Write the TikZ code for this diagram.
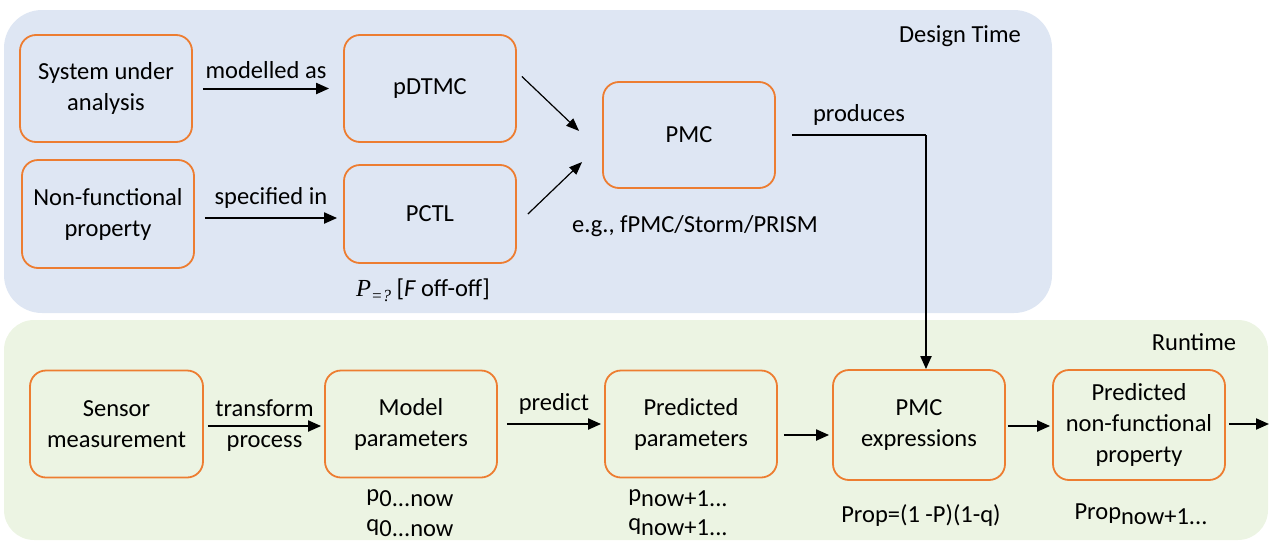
\documentclass[tikz,border=0pt]{standalone}
\usepackage{fontspec}
\setmainfont{Carlito}
\newfontfamily\tnr{Liberation Serif}
\usetikzlibrary{arrows.meta}
\definecolor{bxorange}{RGB}{237,125,49}
\definecolor{dtblue}{RGB}{222,230,243}
\definecolor{rtgreen}{RGB}{236,244,227}
\begin{document}
\begin{tikzpicture}[x=1pt,y=-1pt, font=\fontsize{24.5}{31}\selectfont,
  box/.style={draw=bxorange, line width=1.8pt, rounded corners=16pt, align=center,
    minimum width=172pt, minimum height=107pt, inner sep=0pt},
  arr/.style={-{Triangle[length=13pt,width=11pt]}, line width=2pt},
  tarr/.style={-{Triangle[length=13pt,width=10pt]}, line width=1.2pt},
  lbl/.style={inner sep=0pt, align=center}]
\useasboundingbox (0,0) rectangle (1270,544);
% panels
\fill[dtblue, rounded corners=38pt] (4,10) rectangle (1052,313);
\fill[rtgreen, rounded corners=30pt] (4,320) rectangle (1268,540);
\node[lbl] (dtlabel) at (960,36) {Design Time};
\node[lbl] (rtlabel) at (1194,342) {Runtime};
% design time boxes
\node[box] (sys) at (106,88.5) {System under\\analysis};
\node[box, minimum height=108pt] (nfp) at (108,214) {Non-functional\\property};
\node[box] (pdtmc) at (430,88.5) {pDTMC};
\node[box, minimum height=98pt] (pctl) at (430,214) {PCTL};
\node[box, minimum height=106pt] (pmc) at (689,135) {PMC};
% runtime boxes
\node[box, minimum width=173pt] (sensor) at (116.5,424) {Sensor\\measurement};
\node[box] (model) at (411,424) {Model\\parameters};
\node[box] (predp) at (691,424) {Predicted\\parameters};
\node[box, minimum height=110pt] (pmce) at (919,425) {PMC\\expressions};
\node[box, minimum height=110pt] (prednfp) at (1139,425) {Predicted\\non-functional\\property};
% annotations
\node[lbl] (pctlf) at (423,290) {{\tnr\itshape P}\raisebox{-5pt}{\fontsize{17}{17}\selectfont\tnr\itshape =?} [{\itshape F} off-off]};
\node[lbl] (tools) at (695,226) {e.g., fPMC/Storm/PRISM};
\node[lbl] (p0) at (410,498) {p\raisebox{-5pt}{0...now}};
\node[lbl] (q0) at (410,528) {q\raisebox{-5pt}{0...now}};
\node[lbl] (pn) at (678,498) {p\raisebox{-5pt}{now+1...}};
\node[lbl] (qn) at (678,527) {q\raisebox{-5pt}{now+1...}};
\node[lbl] (prop) at (921,516) {Prop=(1 -P)(1-q)};
\node[lbl] (propn) at (1141,514) {Prop\raisebox{-5pt}{now+1...}};
% connectors design time
\draw[arr] ([xshift=10pt]sys.east) -- node[lbl, above=9pt] {modelled as} ([xshift=-14pt]pdtmc.west);
\draw[arr] ([xshift=10pt,yshift=-4pt]nfp.east) -- node[lbl, above=9pt] {specified in} ([xshift=-6pt,yshift=-4pt]pctl.west);
\draw[tarr] ([xshift=5pt,yshift=12pt]pdtmc.east) -- ([xshift=-23pt,yshift=4pt]pmc.west);
\draw[tarr] ([xshift=11pt]pctl.east) -- ([xshift=-20pt,yshift=-27pt]pmc.west);
\coordinate (turn) at (926,135);
\draw[line width=2pt] ([xshift=16pt]pmc.east) -- node[lbl, above=9pt] {produces} (turn);
\draw[arr] (turn) -- (turn |- pmce.north);
% connectors runtime
\draw[arr] ([xshift=4pt,yshift=-2pt]sensor.east) -- node[lbl, above=8pt] {transform} node[lbl, below=9pt] {process} ([xshift=-3pt,yshift=-2pt]model.west);
\draw[arr] ([xshift=9pt]model.east) -- node[lbl, above=9pt] {predict} ([xshift=-3pt]predp.west);
\draw[arr] ([xshift=6pt,yshift=-11pt]predp.east) -- ([xshift=-3pt,yshift=-10pt]pmce.west);
\draw[arr] ([xshift=2pt,yshift=-1pt]pmce.east) -- ([xshift=-2pt,yshift=-1pt]prednfp.west);
\coordinate (out) at (1269,424);
\draw[arr] ([xshift=3pt,yshift=1pt]prednfp.east) -- (out);
\end{tikzpicture}
\end{document}
